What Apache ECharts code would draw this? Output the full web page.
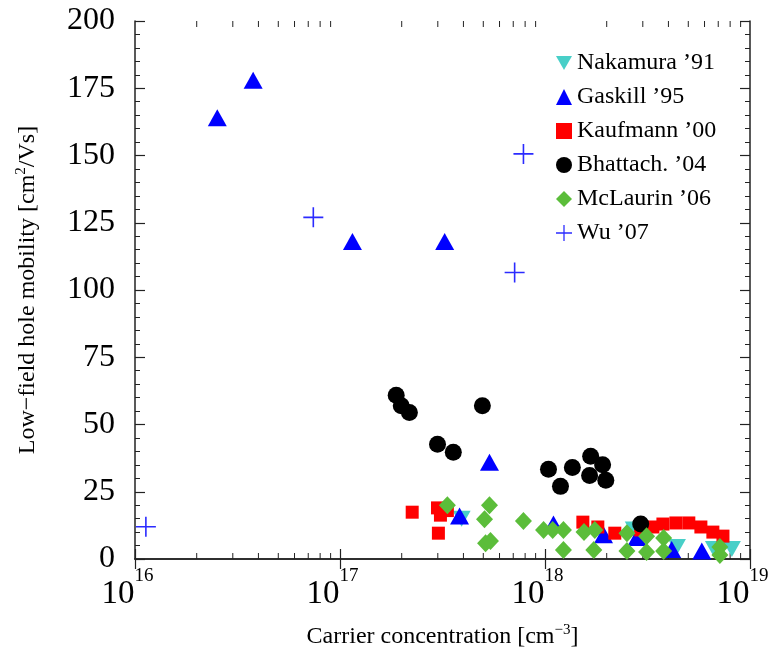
<!DOCTYPE html>
<html>
<head>
<meta charset="utf-8">
<script src="https://cdn.jsdelivr.net/npm/echarts@6/dist/echarts.min.js"></script>
<style>
  html, body { margin: 0; padding: 0; background: #fff; }
  #chart { width: 771px; height: 655px; }
</style>
</head>
<body>
<div id="chart"></div>
<script>
// Hole mobility vs. carrier concentration: [concentration (cm^-3), mobility (cm^2/Vs)]
const nakamura91 = [
  [3.92e17, 15], [2.71e18, 11], [4.40e18, 4.5], [6.67e18, 3.7], [8.16e18, 3.7]
];
const gaskill95 = [
  [2.52e16, 164], [3.77e16, 178], [1.15e17, 118], [3.24e17, 118], [5.36e17, 36],
  [3.83e17, 16], [1.10e18, 13], [1.93e18, 9], [2.81e18, 8], [4.15e18, 3.5], [5.82e18, 3]
];
const kaufmann00 = [
  [2.25e17, 17.4], [2.99e17, 19], [3.09e17, 16.3], [3.34e17, 18], [3.02e17, 9.6],
  [1.53e18, 13.7], [1.81e18, 11.9], [2.19e18, 9.6], [2.93e18, 10.8], [3.36e18, 11.9],
  [3.76e18, 13], [4.35e18, 13.4], [5.03e18, 13.4], [5.76e18, 11.9], [6.59e18, 10],
  [7.38e18, 8.5]
];
const bhattach04 = [
  [1.88e17, 60.9], [1.99e17, 57], [2.18e17, 54.5], [2.99e17, 42.7], [3.57e17, 39.7],
  [4.95e17, 57], [1.04e18, 33.4], [1.19e18, 27], [1.36e18, 34], [1.67e18, 38.2],
  [1.91e18, 35], [1.65e18, 31], [1.98e18, 29.3], [2.93e18, 13]
];
const mclaurin06 = [
  [3.34e17, 20], [5.36e17, 20], [5.07e17, 14.8], [7.85e17, 14.1], [5.13e17, 5.9],
  [5.42e17, 6.7], [9.84e17, 10.8], [1.09e18, 10.8], [1.23e18, 10.8], [1.23e18, 3.3],
  [1.55e18, 10], [1.75e18, 10.8], [1.73e18, 3.3], [2.51e18, 9.6], [2.51e18, 3],
  [3.13e18, 8.5], [3.13e18, 2.6], [3.79e18, 7.8], [3.79e18, 3], [7.13e18, 4.5],
  [7.13e18, 1.5]
];
const wu07 = [
  [1.13e16, 12], [7.41e16, 127], [7.11e17, 106.5], [7.85e17, 150.6]
];

const seriesNames = ["Nakamura \u201991", "Gaskill \u201995", "Kaufmann \u201900",
  "Bhattach. \u201904", "McLaurin \u201906", "Wu \u201907"];

// Axis ranges
const xMin = 1e16, xMax = 1e19;
const yMin = 0, yMax = 200, yInterval = 25;
// Minor log ticks: mantissas 2..9 in each decade
const decades = [1e16, 1e17, 1e18];
const mantissas = [2, 3, 4, 5, 6, 7, 8, 9];
const minorTicks = [];
decades.forEach(d => mantissas.forEach(m => minorTicks.push([m * d])));

const FONT = "Liberation Serif";
const downTriangle = "path://M0,0L10,0L5,8.66Z";
const plusPath = "path://M0,4.6H10V5.4H0Z M4.6,0H5.4V10H4.6Z";

const chart = echarts.init(document.getElementById("chart"), null, { renderer: "canvas" });

// "10" with the exponent raised to the right of the tick
function powerLabel(v) {
  const e = Math.round(Math.log10(v));
  return "{b|10}{s|" + e + "}{sp|}";
}

const axisLineStyle = { color: "#222", width: 1.5 };
const tickStyle = { color: "#222", width: 1.2 };

chart.setOption({
  animation: false,
  backgroundColor: "#fff",
  grid: { left: 135, right: 21, top: 21, bottom: 96, outerBoundsMode: "none" },
  legend: {
    data: seriesNames,
    orient: "vertical",
    left: 551,
    top: 46,
    itemWidth: 16,
    itemHeight: 16,
    itemGap: 10,
    textStyle: { fontFamily: FONT, fontSize: 24, color: "#000" }
  },
  xAxis: [
    {
      type: "log", logBase: 10, min: xMin, max: xMax,
      position: "bottom",
      axisLine: { lineStyle: axisLineStyle },
      axisTick: { inside: true, length: 10, lineStyle: tickStyle },
      splitLine: { show: false },
      axisLabel: {
        margin: 8,
        formatter: powerLabel,
        rich: {
          sp: { width: 15 },
          b: { fontFamily: FONT, fontSize: 33, color: "#000", verticalAlign: "bottom", lineHeight: 44 },
          s: { fontFamily: FONT, fontSize: 19, color: "#000", verticalAlign: "top", lineHeight: 19 }
        }
      },
      name: "{t|Carrier concentration [cm}{s|\u22123}{t|]}",
      nameLocation: "middle",
      nameGap: 64,
      nameTextStyle: {
        rich: {
          t: { fontFamily: FONT, fontSize: 24, color: "#000" },
          s: { fontFamily: FONT, fontSize: 15, color: "#000", verticalAlign: "top", padding: [0, 0, 12, 0] }
        }
      }
    },
    {
      type: "log", logBase: 10, min: xMin, max: xMax,
      position: "top",
      axisLine: { lineStyle: axisLineStyle },
      axisTick: { inside: true, length: 10, lineStyle: tickStyle },
      axisLabel: { show: false },
      splitLine: { show: false }
    }
  ],
  yAxis: [
    {
      type: "value", min: yMin, max: yMax, interval: yInterval,
      position: "left",
      axisLine: { show: true, lineStyle: axisLineStyle },
      axisTick: { show: true, inside: true, length: 10, lineStyle: tickStyle },
      minorTick: { show: true, splitNumber: 5, length: 5, lineStyle: { color: "#222", width: 1 } },
      splitLine: { show: false },
      axisLabel: { fontFamily: FONT, fontSize: 32, color: "#000", margin: 20 },
      name: "{t|Low\u2212field hole mobility [cm}{s|2}{t|/Vs]}",
      nameLocation: "middle",
      nameGap: 94,
      nameRotate: 90,
      nameTextStyle: {
        rich: {
          t: { fontFamily: FONT, fontSize: 24, color: "#000" },
          s: { fontFamily: FONT, fontSize: 15, color: "#000", verticalAlign: "top", padding: [0, 0, 12, 0] }
        }
      }
    },
    {
      type: "value", min: yMin, max: yMax, interval: yInterval,
      position: "right",
      axisLine: { show: true, lineStyle: axisLineStyle },
      axisTick: { show: true, inside: true, length: 10, lineStyle: tickStyle },
      minorTick: { show: true, splitNumber: 5, length: 5, lineStyle: { color: "#222", width: 1 } },
      splitLine: { show: false },
      axisLabel: { show: false }
    }
  ],
  series: [
    {
      // minor log ticks on the bottom and top edges
      type: "custom",
      silent: true,
      data: minorTicks,
      renderItem: function (params, api) {
        const pb = api.coord([api.value(0), yMin]);
        const pt = api.coord([api.value(0), yMax]);
        const st = { stroke: "#222", lineWidth: 1 };
        return {
          type: "group",
          children: [
            { type: "line", shape: { x1: pb[0], y1: pb[1], x2: pb[0], y2: pb[1] - 6 }, style: st },
            { type: "line", shape: { x1: pt[0], y1: pt[1], x2: pt[0], y2: pt[1] + 6 }, style: st }
          ]
        };
      }
    },
    {
      name: seriesNames[0], type: "scatter", data: nakamura91,
      symbol: downTriangle, symbolSize: [18, 16],
      itemStyle: { color: "#48CFC8", opacity: 1 }
    },
    {
      name: seriesNames[1], type: "scatter", data: gaskill95,
      symbol: "triangle", symbolSize: [19, 17],
      itemStyle: { color: "#0000FF", opacity: 1 }
    },
    {
      name: seriesNames[2], type: "scatter", data: kaufmann00,
      symbol: "rect", symbolSize: 13,
      itemStyle: { color: "#FF0000", opacity: 1 }
    },
    {
      name: seriesNames[3], type: "scatter", data: bhattach04,
      symbol: "circle", symbolSize: 17,
      itemStyle: { color: "#000000", opacity: 1 }
    },
    {
      name: seriesNames[4], type: "scatter", data: mclaurin06,
      symbol: "diamond", symbolSize: [17, 18],
      itemStyle: { color: "#5BBD3A", opacity: 1 }
    },
    {
      name: seriesNames[5], type: "scatter", data: wu07,
      symbol: plusPath, symbolSize: 20,
      itemStyle: { color: "#2B2BFF", opacity: 1 }
    }
  ]
});
</script>
</body>
</html>
